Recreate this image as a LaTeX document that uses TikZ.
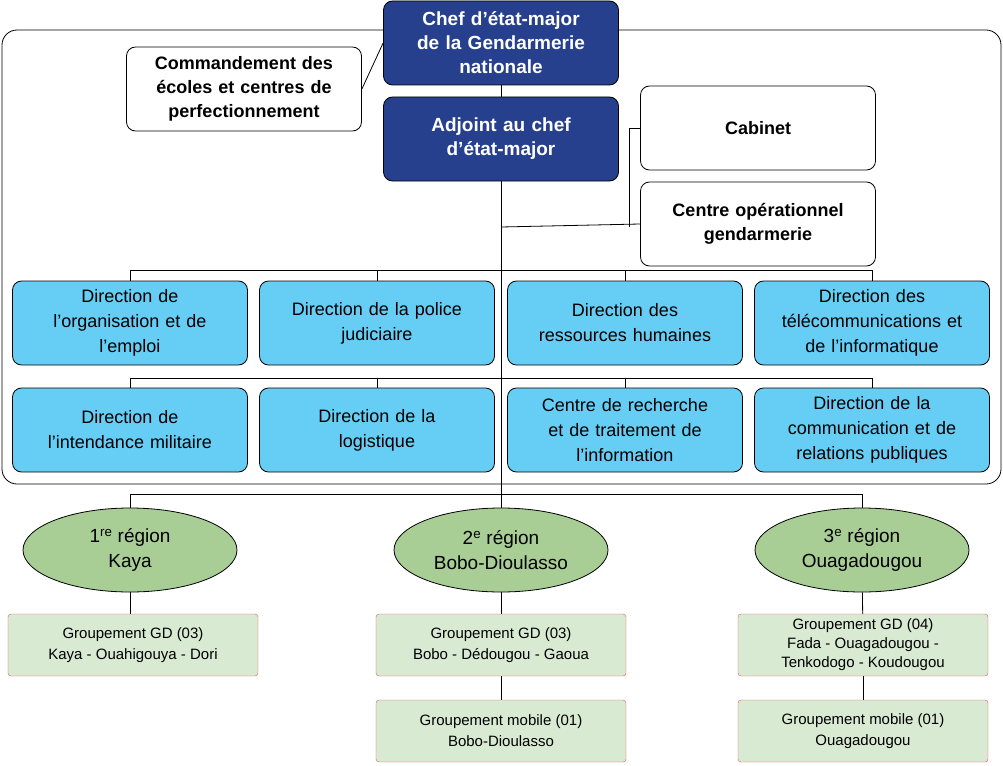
\documentclass[tikz,border=0pt]{standalone}
\usepackage{fontspec}
\setmainfont{Liberation Sans}
\usetikzlibrary{shapes.geometric}
\definecolor{navy}{RGB}{38,64,142}
\definecolor{sky}{RGB}{102,206,245}
\definecolor{leaf}{RGB}{168,206,150}
\definecolor{pale}{RGB}{217,234,211}
\definecolor{redb}{RGB}{224,90,90}
\begin{document}
\begin{tikzpicture}[x=1pt,y=-1pt,
  bx/.style={draw,thick,rounded corners=9pt,minimum width=235pt,minimum height=84pt,align=center,inner sep=2pt,text width=228pt},
  boss/.style={bx,fill=navy,text=white,font=\fontsize{19}{24}\selectfont\bfseries},
  wbox/.style={bx,fill=white,font=\fontsize{18}{24}\selectfont\bfseries},
  dir/.style={bx,fill=sky,font=\fontsize{18}{25}\selectfont},
  reg/.style={ellipse,draw,thick,fill=leaf,minimum width=214pt,minimum height=84pt,align=center,font=\fontsize{19}{25}\selectfont},
  grp/.style={draw=redb,fill=pale,rounded corners=3pt,minimum height=62pt,align=center,font=\fontsize{15}{21}\selectfont},
  ln/.style={draw,thick}]
\useasboundingbox (0,0) rectangle (1003,765);
\draw[thick,rounded corners=15pt] (2,30) rectangle (1001,484);
\node[boss] (chef) at (501,43) {Chef d’état-major\\de la Gendarmerie\\nationale};
\node[wbox] (cmd) at (244,89) {Commandement des\\écoles et centres de\\perfectionnement};
\node[boss] (adj) at (501,139) {Adjoint au chef\\d’état-major};
\node[wbox] (cab) at (758,128) {Cabinet};
\node[wbox] (cop) at (758,224) {Centre opérationnel\\gendarmerie};
\foreach \n/\x/\t in {d1/130/{Direction de\\l’organisation et de\\l’emploi},d2/377/{Direction de la police\\judiciaire},d3/625/{Direction des\\ressources humaines},d4/872/{Direction des\\télécommunications et\\de l’informatique}}
  \node[dir] (\n) at (\x,323) {\t};
\foreach \n/\x/\t in {e1/130/{Direction de\\l’intendance militaire},e2/377/{Direction de la\\logistique},e3/625/{Centre de recherche\\et de traitement de\\l’information},e4/872/{Direction de la\\communication et de\\relations publiques}}
  \node[dir] (\n) at (\x,430) {\t};
\node[reg] (r1) at (130,550) {1\textsuperscript{re} région\\Kaya};
\node[reg] (r2) at (501,550) {2\textsuperscript{e} région\\Bobo-Dioulasso};
\node[reg] (r3) at (862,550) {3\textsuperscript{e} région\\Ouagadougou};
\node[grp,minimum width=250pt] (g1) at (133,645) {Groupement GD (03)\\Kaya - Ouahigouya - Dori};
\node[grp,minimum width=250pt] (g2) at (501,645) {Groupement GD (03)\\Bobo - Dédougou - Gaoua};
\node[grp,minimum width=250pt,font=\fontsize{15}{19}\selectfont] (g3) at (863,645) {Groupement GD (04)\\Fada - Ouagadougou -\\Tenkodogo - Koudougou};
\node[grp,minimum width=250pt] (m2) at (501,731) {Groupement mobile (01)\\Bobo-Dioulasso};
\node[grp,minimum width=250pt] (m3) at (863,731) {Groupement mobile (01)\\Ouagadougou};
\coordinate (b1) at (501,227);
\coordinate (b2) at (501,270);
\coordinate (b3) at (501,378);
\coordinate (b4) at (501,494);
\draw[ln] (chef) -- (adj);
\draw[ln] (cmd.east) -- (chef.west);
\draw[ln] (adj) -- (b4);
\draw[ln] (b1) -- (cop.west);
\draw[ln] (cab.west) -| (629,227);
\foreach \d in {d1,d2,d3,d4} \draw[ln] (b2) -| (\d.north);
\foreach \d in {e1,e2,e3,e4} \draw[ln] (b3) -| (\d.north);
\foreach \d in {r1,r2,r3} \draw[ln] (b4) -| (\d.north);
\draw[ln] (r1) -- (g1.north -| r1);
\draw[ln] (r2) -- (g2);
\draw[ln] (r3) -- (g3);
\draw[ln] (g2) -- (m2);
\draw[ln] (g3) -- (m3);
\end{tikzpicture}
\end{document}
